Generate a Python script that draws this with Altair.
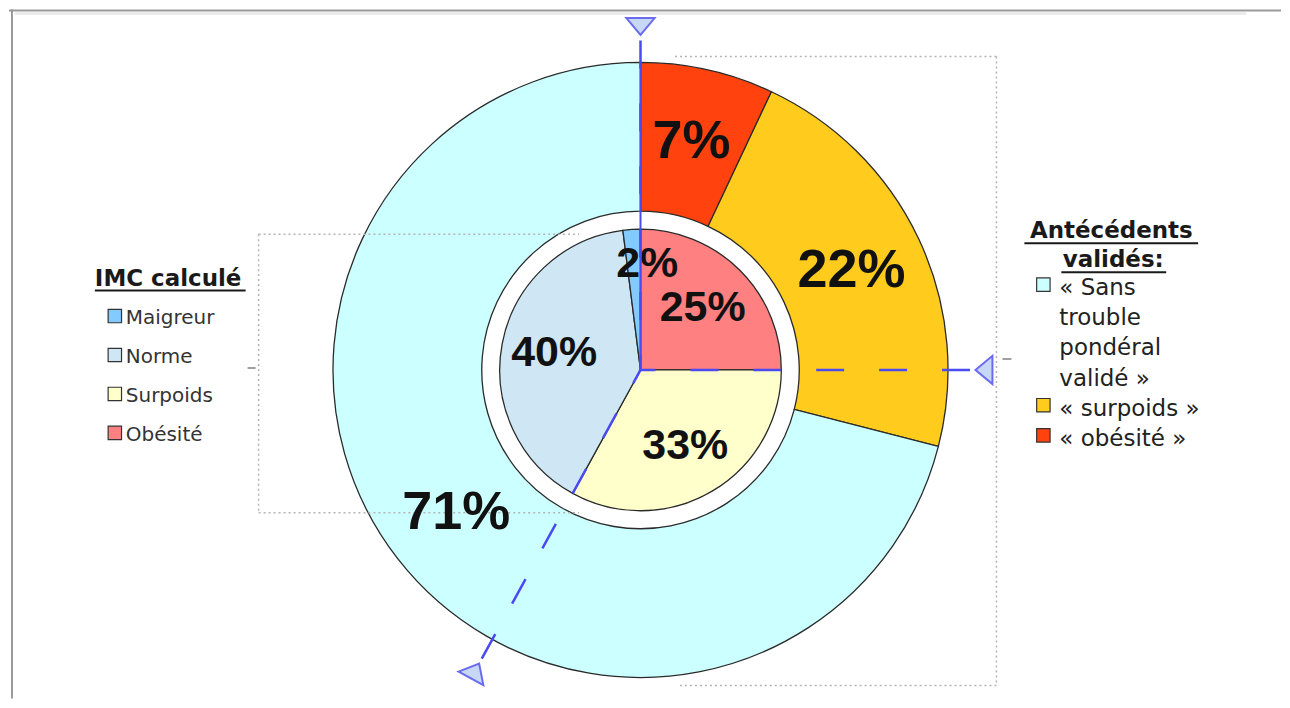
import math
import altair as alt
import pandas as pd

# ---------------- data ----------------
outer_cats = ["obésité", "surpoids", "sans trouble"]
outer_vals = [7, 22, 71]
inner_cats = ["Obésité", "Surpoids", "Norme", "Maigreur"]
inner_vals = [25, 33, 40, 2]

left_title = "IMC calculé"
left_items = ["Maigreur", "Norme", "Surpoids", "Obésité"]
right_title = ["Antécédents", "validés:"]
right_item_cats = ["sans trouble", "surpoids", "obésité"]
right_item_lines = [["« Sans", "trouble", "pondéral", "validé »"], ["« surpoids »"], ["« obésité »"]]

# ---------------- styles ----------------
outer_colors = {"obésité": "#ff420e", "surpoids": "#ffcc1e", "sans trouble": "#ccffff"}
inner_colors = {"Obésité": "#ff8080", "Surpoids": "#ffffcc", "Norme": "#cfe7f5", "Maigreur": "#83caff"}

OFF = 8  # page margin


def p(v):
    return v - OFF


CX, CY = p(638.5), p(369)
R_OUT, R_OUT_IN, R_IN = 308, 159, 141
W, H = 1272, 690

NX = dict(scale=None, axis=None)
NY = dict(scale=None, axis=None)


def rules(rows, **mk):
    df = pd.DataFrame(rows, columns=["x", "y", "x2", "y2"])
    return alt.Chart(df).mark_rule(**mk).encode(
        x=alt.X("x:Q", **NX), y=alt.Y("y:Q", **NY), x2="x2:Q", y2="y2:Q"
    )


# frame
frame = rules([[p(6), p(9), W, p(9)], [p(9), p(8), p(9), H]], color="#9a9a9a", strokeWidth=2)
frame2 = rules([[p(12), p(12), p(1245), p(12)]], color="#e8e8e8", strokeWidth=2.5)

dot = dict(color="#b4b4b4", strokeWidth=1.5, strokeDash=[2, 3])
right_box = rules([
    [p(673), p(55), p(995), p(55)],
    [p(995), p(55), p(995), p(685)],
    [p(678), p(685), p(995), p(685)],
], **dot)
left_box = rules([
    [p(256), p(233), p(577), p(233)],
    [p(256), p(512), p(577), p(512)],
    [p(256), p(233), p(256), p(512)],
], **dot)
ticks = rules([[p(245), p(367), p(253), p(367)], [p(1001), p(358), p(1010), p(358)]],
              color="#a0a0a0", strokeWidth=2)

# ---------------- pies ----------------
outer_df = pd.DataFrame({
    "cat": outer_cats, "v": outer_vals, "ord": list(range(len(outer_cats))),
    "col": [outer_colors[c] for c in outer_cats],
    "label": [f"{v}%" for v in outer_vals],
})
inner_df = pd.DataFrame({
    "cat": inner_cats, "v": inner_vals, "ord": list(range(len(inner_cats))),
    "col": [inner_colors[c] for c in inner_cats],
    "label": [f"{v}%" for v in inner_vals],
})
inner_df["lr"] = [106 if v < 5 else 88 for v in inner_vals]

center = dict(x=alt.value(CX), y=alt.value(CY))

outer_arc = alt.Chart(outer_df).mark_arc(
    radius=R_OUT, radius2=R_OUT_IN, stroke="#2a2a2a", strokeWidth=1.3
).encode(
    theta=alt.Theta("v:Q", stack=True),
    order=alt.Order("ord:Q"),
    color=alt.Color("col:N", scale=None),
    **center,
)
inner_arc = alt.Chart(inner_df).mark_arc(
    radius=R_IN, stroke="#2a2a2a", strokeWidth=1.3
).encode(
    theta=alt.Theta("v:Q", stack=True),
    order=alt.Order("ord:Q"),
    color=alt.Color("col:N", scale=None),
    **center,
)

lab = dict(font="Liberation Sans", fontWeight="bold", color="#111111", baseline="middle", align="center")
outer_txt = alt.Chart(outer_df).mark_text(radius=(R_OUT + R_OUT_IN) / 2, fontSize=54, **lab).encode(
    theta=alt.Theta("v:Q", stack=True),
    order=alt.Order("ord:Q"),
    detail="cat:N",
    text="label:N",
    **center,
)
inner_txt = alt.Chart(inner_df).mark_text(fontSize=43, **lab).encode(
    theta=alt.Theta("v:Q", stack=True),
    order=alt.Order("ord:Q"),
    detail="cat:N",
    radius=alt.Radius("lr:Q", scale=None),
    text="label:N",
    **center,
)

# ---------------- selection handles (decoration) ----------------
bounds = [0]
for v in inner_vals[:-1]:
    bounds.append(bounds[-1] + v)
angles = [b * 3.6 for b in bounds[:3]]


def pt(a, d):
    r = math.radians(a)
    return CX + d * math.sin(r), CY - d * math.cos(r)


blue = "#4a4af2"
dash_rows = []
for a in angles:
    x1, y1 = pt(a, 330)
    dash_rows.append([x1, y1, CX, CY])
blue_dash = rules(dash_rows, color=blue, strokeWidth=2.5, strokeDash=[28, 35])
xs, ys = pt(0, R_OUT)
blue_solid = rules([[xs, ys, CX, CY]], color=blue, strokeWidth=2)

tri_df = pd.DataFrame({
    "x": [pt(a, 344)[0] for a in angles],
    "y": [pt(a, 344)[1] for a in angles],
    "ang": angles,
})
tris = alt.Chart(tri_df).mark_point(
    shape="M-1,-0.6L1,-0.6L0,0.6Z", size=800, filled=True, fill="#c6d8f4",
    stroke="#6b6bf0", strokeWidth=2, opacity=1
).encode(
    x=alt.X("x:Q", **NX), y=alt.Y("y:Q", **NY), angle=alt.Angle("ang:Q", scale=None)
)

# ---------------- legends ----------------
lt_df = pd.DataFrame({"t": [left_title], "x": [p(92)], "y": [p(285)]})
left_title_mk = alt.Chart(lt_df).mark_text(
    font="DejaVu Sans", fontWeight="bold", fontSize=23, align="left", baseline="alphabetic", color="#1a1a1a"
).encode(x=alt.X("x:Q", **NX), y=alt.Y("y:Q", **NY), text="t:N")

li_df = pd.DataFrame({
    "t": left_items,
    "col": [inner_colors[c] for c in left_items],
    "y": [p(323 + 39 * i) for i in range(len(left_items))],
})
li_df["ys"] = li_df["y"] - 8
li_df["xt"] = p(123)
li_df["xs"] = p(112)
left_sq = alt.Chart(li_df).mark_square(size=180, stroke="#333333", strokeWidth=1.2, opacity=1).encode(
    x=alt.X("xs:Q", **NX), y=alt.Y("ys:Q", **NY), color=alt.Color("col:N", scale=None)
)
left_txt = alt.Chart(li_df).mark_text(
    font="DejaVu Sans", fontSize=20, align="left", baseline="alphabetic", color="#333333"
).encode(x=alt.X("xt:Q", **NX), y=alt.Y("y:Q", **NY), text="t:N")

rt_df = pd.DataFrame({"t": right_title, "x": [p(1110), p(1112)], "y": [p(237), p(266)]})
right_title_mk = alt.Chart(rt_df).mark_text(
    font="DejaVu Sans", fontWeight="bold", fontSize=23, align="center", baseline="alphabetic", color="#1a1a1a"
).encode(x=alt.X("x:Q", **NX), y=alt.Y("y:Q", **NY), text="t:N")

LH = 30.2
rows_t, rows_s = [], []
line_i = 0
for cat, lines in zip(right_item_cats, right_item_lines):
    base_y = 294 + LH * line_i
    rows_s.append({"col": outer_colors[cat], "x": p(1042), "y": p(base_y - 10.5)})
    for ln in lines:
        rows_t.append({"t": ln, "x": p(1058), "y": p(294 + LH * line_i)})
        line_i += 1
rs_df = pd.DataFrame(rows_s)
rtx_df = pd.DataFrame(rows_t)
right_sq = alt.Chart(rs_df).mark_square(size=180, stroke="#333333", strokeWidth=1.2, opacity=1).encode(
    x=alt.X("x:Q", **NX), y=alt.Y("y:Q", **NY), color=alt.Color("col:N", scale=None)
)
right_txt = alt.Chart(rtx_df).mark_text(
    font="DejaVu Sans", fontSize=23, align="left", baseline="alphabetic", color="#222222"
).encode(x=alt.X("x:Q", **NX), y=alt.Y("y:Q", **NY), text="t:N")

underlines = rules([
    [p(92), p(289.5), p(243), p(289.5)],
    [p(1023), p(242), p(1197), p(242)],
    [p(1060), p(271), p(1165), p(271)],
], color="#1a1a1a", strokeWidth=2)

chart = alt.layer(
    frame, frame2, right_box, outer_arc, left_box, ticks, inner_arc,
    outer_txt, inner_txt, blue_solid, blue_dash, tris,
    left_title_mk, left_sq, left_txt, right_title_mk, right_sq, right_txt, underlines,
).properties(
    width=W, height=H, padding=0, background="white"
).configure_view(stroke=None)

chart.save("out.html", embed_options={"renderer": "svg", "actions": False})
